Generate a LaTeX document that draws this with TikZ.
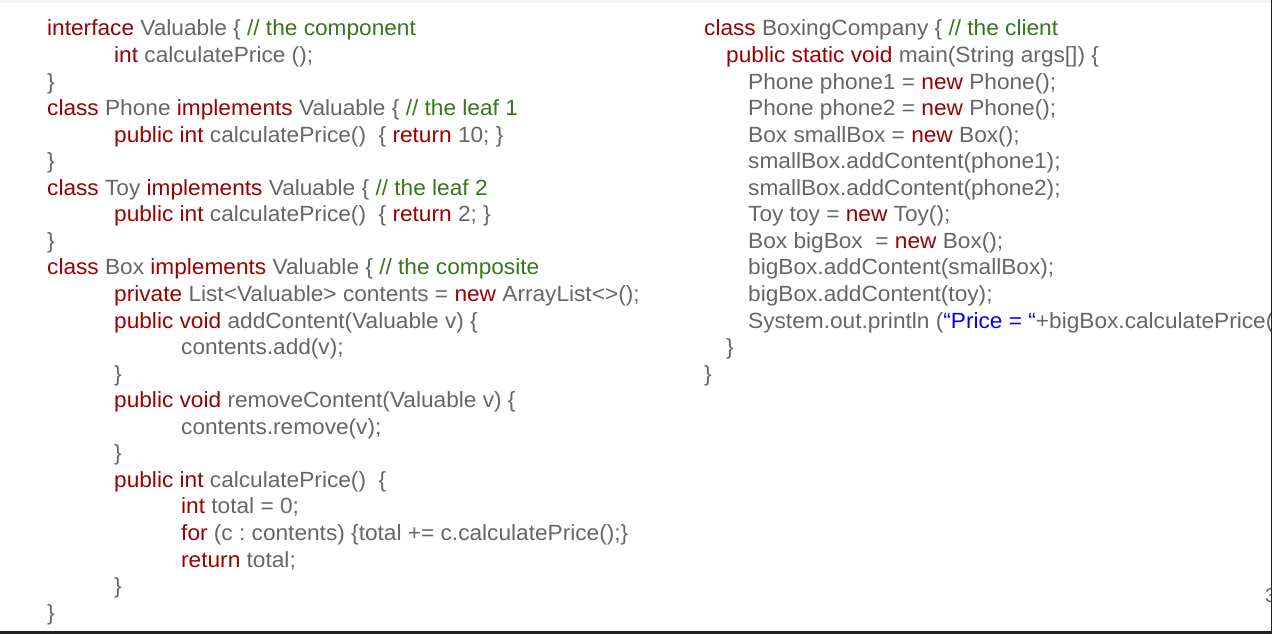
\documentclass[tikz,border=0pt]{standalone}
\usepackage{fontspec}
\setmainfont[FakeStretch=1.03]{Liberation Sans}
\usetikzlibrary{positioning}
\frenchspacing
\definecolor{KEYRED}{HTML}{990000}
\definecolor{CODEGRAY}{HTML}{666666}
\definecolor{COMMENTGREEN}{HTML}{38761D}
\definecolor{STRBLUE}{HTML}{0000FF}
\definecolor{FRAMEDARK}{HTML}{22212B}
\definecolor{TOPGRAY}{HTML}{F6F6F6}
\newcommand{\kwd}[1]{\textcolor{KEYRED}{#1}}
\newcommand{\cmt}[1]{\textcolor{COMMENTGREEN}{#1}}
\newcommand{\strg}[1]{\textcolor{STRBLUE}{#1}}
\tikzset{
	codeline/.style = {anchor=base west, inner sep=0pt, text=CODEGRAY, font=\fontsize{22}{26}\selectfont}
}

\begin{document}
\begin{tikzpicture}[x=1pt, y=-1pt]
		% page
		\clip (0,0) rectangle (1272,634);
		\fill[white] (0,0) rectangle (1272,634);
		\fill[TOPGRAY] (0,0) rectangle (1272,3.5);
		% the component and the leaves
		\node[codeline] (l1) at (47,36) {\kwd{interface} Valuable \{ \cmt{// the component}};
		\node[codeline] (l2) at (114,62.5) {\kwd{int} calculatePrice ();};
		\node[codeline] (l3) at (47,89.1) {\}};
		\node[codeline] (l4) at (47,115.6) {\kwd{class} Phone \kwd{implements} Valuable \{ \cmt{// the leaf 1}};
		\node[codeline] (l5) at (114,142.2) {\kwd{public int} calculatePrice()\ \ \{ \kwd{return} 10; \}};
		\node[codeline] (l6) at (47,168.7) {\}};
		\node[codeline] (l7) at (47,195.3) {\kwd{class} Toy \kwd{implements} Valuable \{ \cmt{// the leaf 2}};
		\node[codeline] (l8) at (114,221.8) {\kwd{public int} calculatePrice()\ \ \{ \kwd{return} 2; \}};
		\node[codeline] (l9) at (47,248.4) {\}};
		% the composite
		\node[codeline] (l10) at (47,274.9) {\kwd{class} Box \kwd{implements} Valuable \{ \cmt{// the composite}};
		\node[codeline] (l11) at (114,301.5) {\kwd{private} List<Valuable> contents = \kwd{new} ArrayList<>();};
		\node[codeline] (l12) at (114,328) {\kwd{public void} addContent(Valuable v) \{};
		\node[codeline] (l13) at (181,354.6) {contents.add(v);};
		\node[codeline] (l14) at (114,381.1) {\}};
		\node[codeline] (l15) at (114,407.7) {\kwd{public void} removeContent(Valuable v) \{};
		\node[codeline] (l16) at (181,434.2) {contents.remove(v);};
		\node[codeline] (l17) at (114,460.8) {\}};
		\node[codeline] (l18) at (114,487.3) {\kwd{public int} calculatePrice()\ \ \{};
		\node[codeline] (l19) at (181,513.9) {\kwd{int} total = 0;};
		\node[codeline] (l20) at (181,540.4) {\kwd{for} (c : contents) \{total += c.calculatePrice();\}};
		\node[codeline] (l21) at (181,567) {\kwd{return} total;};
		\node[codeline] (l22) at (114,593.5) {\}};
		\node[codeline] (l23) at (47,620) {\}};
		% the client
		\node[codeline] (r1) at (704,36) {\kwd{class} BoxingCompany \{ \cmt{// the client}};
		\node[codeline] (r2) at (726,62.5) {\kwd{public static void} main(String args[]) \{};
		\node[codeline] (r3) at (748,89.1) {Phone phone1 = \kwd{new} Phone();};
		\node[codeline] (r4) at (748,115.6) {Phone phone2 = \kwd{new} Phone();};
		\node[codeline] (r5) at (748,142.2) {Box smallBox = \kwd{new} Box();};
		\node[codeline] (r6) at (748,168.7) {smallBox.addContent(phone1);};
		\node[codeline] (r7) at (748,195.3) {smallBox.addContent(phone2);};
		\node[codeline] (r8) at (748,221.8) {Toy toy = \kwd{new} Toy();};
		\node[codeline] (r9) at (748,248.4) {Box bigBox\ \ = \kwd{new} Box();};
		\node[codeline] (r10) at (748,274.9) {bigBox.addContent(smallBox);};
		\node[codeline] (r11) at (748,301.5) {bigBox.addContent(toy);};
		\node[codeline] (r12) at (748,328) {System.out.println (\strg{“Price = “}+bigBox.calculatePrice());};
		\node[codeline] (r13) at (726,354.6) {\}};
		\node[codeline] (r14) at (704,381.1) {\}};
		% page number and frame
		\node[codeline, font=\fontsize{20}{24}\selectfont] (pagenum) at (1265,602) {3};
		\fill[FRAMEDARK] (1270.7,0) rectangle (1272,634);
		\fill[FRAMEDARK] (0,630.7) rectangle (1272,634);
	\end{tikzpicture}
\end{document}
